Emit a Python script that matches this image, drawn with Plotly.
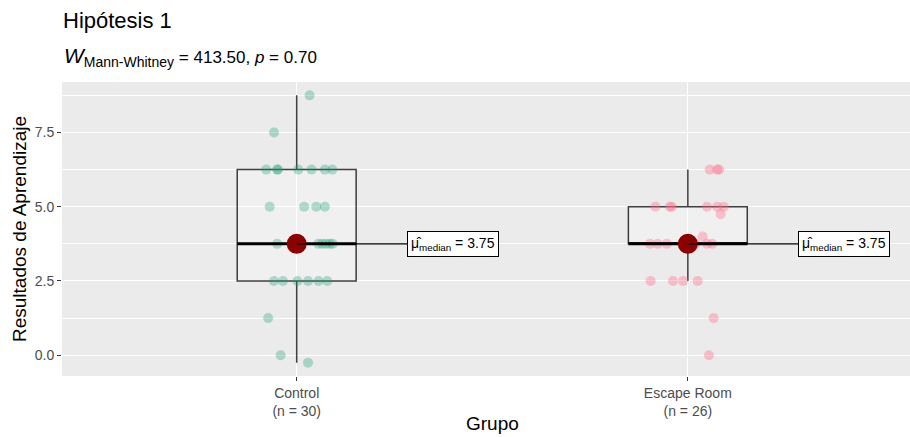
import numpy as np
import plotly.graph_objects as go

# ---------------- data ----------------
groups = ["Control", "Escape Room"]
group_n_labels = ["Control<br>(n = 30)", "Escape Room<br>(n = 26)"]

control_scores = [8.75, 7.5,
                  6.25, 6.25, 6.25, 6.25, 6.25, 6.25, 6.25,
                  5.0, 5.0, 5.0, 5.0,
                  3.75, 3.75, 3.75, 3.75, 3.75, 3.75, 3.75, 3.75,
                  2.5, 2.5, 2.5, 2.5, 2.5, 2.5,
                  1.25, 0.0, -0.25]
control_jitter = [0.033, -0.058,
                  -0.078, -0.050, -0.048, 0.004, 0.038, 0.072, 0.091,
                  -0.069, 0.019, 0.050, 0.072,
                  -0.050, -0.005, 0.002, 0.055, 0.065, 0.075, 0.085, 0.092,
                  -0.058, -0.035, 0.002, 0.029, 0.056, 0.078,
                  -0.073, -0.041, 0.029]

escape_scores = [6.25, 6.25, 6.25,
                 5.0, 5.0, 5.0, 5.0, 5.0, 5.0,
                 4.75, 4.0,
                 3.75, 3.75, 3.75, 3.75, 3.75, 3.75, 3.75, 3.75, 3.75,
                 2.5, 2.5, 2.5, 2.5,
                 1.25, 0.0]
escape_jitter = [0.056, 0.075, 0.080,
                 -0.083, -0.046, -0.041, 0.049, 0.075, 0.092,
                 0.084, 0.038,
                 -0.097, -0.077, -0.054, -0.015, 0.0, 0.012, 0.020, 0.049, 0.062,
                 -0.095, -0.038, -0.012, 0.025,
                 0.066, 0.054]

y_ticks = [0.0, 2.5, 5.0, 7.5]
y_tick_labels = ["0.0", "2.5", "5.0", "7.5"]

title_text = "Hipótesis 1"
subtitle_text = ("<span style='font-size:21px'><i>W</i></span>"
                 "<sub><span style='font-size:14px'>Mann-Whitney</span></sub>"
                 " = 413.50, <i>p</i> = 0.70")
x_title = "Grupo"
y_title = "Resultados de Aprendizaje"

point_colors = ["rgba(27,158,119,0.32)", "rgba(255,110,140,0.38)"]
FONT = "Liberation Sans, Arial, sans-serif"
BOX_W = 0.304

fig = go.Figure()

all_scores = [control_scores, escape_scores]
all_jitter = [control_jitter, escape_jitter]

for i, (scores, jit) in enumerate(zip(all_scores, all_jitter)):
    pos = i + 1
    xs = [pos + j for j in jit]
    fig.add_trace(go.Scatter(
        x=xs, y=scores, mode="markers",
        marker=dict(size=10, color=point_colors[i], line=dict(width=0)),
        showlegend=False, hoverinfo="skip"))

for i, scores in enumerate(all_scores):
    pos = i + 1
    fig.add_trace(go.Box(
        x=[pos] * len(scores), y=scores, width=BOX_W,
        boxpoints="outliers", quartilemethod="linear", whiskerwidth=0,
        marker=dict(color="rgba(0,0,0,0)", size=1, opacity=0,
                    outliercolor="rgba(0,0,0,0)"),
        line=dict(color="rgba(0,0,0,0.75)", width=1.5),
        fillcolor="rgba(255,255,255,0.25)",
        showlegend=False, hoverinfo="skip"))

for i, scores in enumerate(all_scores):
    pos = i + 1
    med = float(np.median(scores))
    fig.add_trace(go.Scatter(
        x=[pos - BOX_W / 2, pos + BOX_W / 2], y=[med, med], mode="lines",
        line=dict(color="black", width=3), showlegend=False, hoverinfo="skip"))
    fig.add_trace(go.Scatter(
        x=[pos], y=[med], mode="markers",
        marker=dict(size=20, color="#8B0000"), showlegend=False, hoverinfo="skip"))
    fig.add_annotation(
        x=pos, y=med, xref="x", yref="y",
        text="μ̂<sub>median</sub> = %.2f" % med,
        showarrow=True, arrowhead=0, arrowwidth=1.2, arrowcolor="black",
        ax=156, ay=0, standoff=0,
        font=dict(family=FONT, size=14, color="black"),
        bgcolor="white", bordercolor="black", borderwidth=1, borderpad=3)

fig.add_annotation(
    xref="paper", yref="paper", x=0.0, y=1 + (82 - 57) / 294,
    xanchor="left", yanchor="middle", showarrow=False,
    text=subtitle_text, font=dict(family=FONT, size=17, color="black"))

fig.add_annotation(
    xref="paper", yref="paper", x=(492 - 62) / 848, y=-(423 - 376) / 294,
    xanchor="center", yanchor="middle", showarrow=False,
    text=x_title, font=dict(family=FONT, size=19, color="black"))

fig.update_layout(
    width=910, height=437,
    margin=dict(l=62, r=0, t=82, b=61),
    paper_bgcolor="white", plot_bgcolor="#EBEBEB",
    title=dict(text=title_text, x=63 / 910, xanchor="left", xref="container",
               y=1 - 20 / 437, yanchor="middle", yref="container",
               font=dict(family=FONT, size=22, color="black")),
    font=dict(family=FONT),
    xaxis=dict(range=[0.4, 2.568], tickvals=[1, 2], ticktext=group_n_labels,
               automargin=False,
               showgrid=True, gridcolor="white", gridwidth=1.1, zeroline=False,
               ticks="outside", ticklen=4, tickcolor="#333333", tickwidth=1,
               tickfont=dict(family=FONT, size=14, color="#4D4D4D")),
    yaxis=dict(range=[-0.7, 9.2], tickvals=y_ticks, ticktext=y_tick_labels,
               automargin=False,
               showgrid=True, gridcolor="white", gridwidth=1.1, zeroline=False,
               ticks="outside", ticklen=4, tickcolor="#333333", tickwidth=1,
               tickfont=dict(family=FONT, size=14, color="#4D4D4D"),
               minor=dict(tickvals=[1.25, 3.75, 6.25, 8.75], showgrid=True,
                          gridcolor="white", gridwidth=0.5, ticks=""),
               title=dict(text=y_title, standoff=3,
                          font=dict(family=FONT, size=19, color="black"))),
)

fig.write_html("out.html",
               config={"displayModeBar": False},
               post_script="document.body.style.margin='0';"
                           "document.body.style.padding='0';")
